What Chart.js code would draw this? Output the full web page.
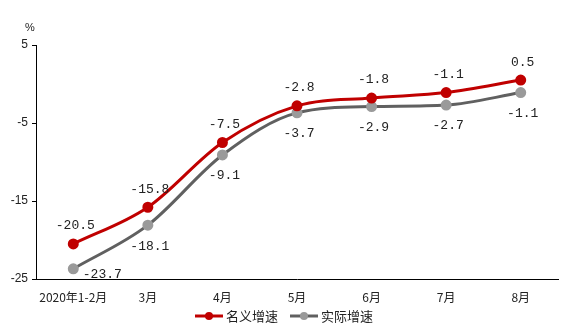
<!DOCTYPE html>
<html>
<head>
<meta charset="utf-8">
<script src="https://cdn.jsdelivr.net/npm/chart.js@4"></script>
<style>
  html, body { margin: 0; padding: 0; background: #fff; }
  #wrap { width: 566px; height: 330px; }
</style>
</head>
<body>
<div id="wrap"><canvas id="chart" width="566" height="330"></canvas></div>
<script>
// data
const months = ['2020年1-2月', '3月', '4月', '5月', '6月', '7月', '8月'];
const nominal = [-20.5, -15.8, -7.5, -2.8, -1.8, -1.1, 0.5];
const real = [-23.7, -18.1, -9.1, -3.7, -2.9, -2.7, -1.1];
const seriesNames = ['名义增速', '实际增速'];
const yTicks = [5, -5, -15, -25];

const RED = '#c00000';
const GREY_LINE = '#606060';
const GREY_DOT = '#9a9a9a';
const TXT = '#222';

// value labels + legend + unit
const extras = {
  id: 'extras',
  afterDatasetsDraw(chart) {
    const ctx = chart.ctx;
    ctx.save();
    ctx.font = '13px "Liberation Mono", "DejaVu Sans Mono", monospace';
    ctx.fillStyle = TXT;
    ctx.textAlign = 'center';
    ctx.textBaseline = 'middle';
    chart.getDatasetMeta(0).data.forEach((p, i) => {
      ctx.fillText(nominal[i].toFixed(1), p.x + 2, p.y - 18);
    });
    chart.getDatasetMeta(1).data.forEach((p, i) => {
      if (i === 0) ctx.fillText(real[i].toFixed(1), p.x + 29, p.y + 6);
      else ctx.fillText(real[i].toFixed(1), p.x + 2, p.y + 21);
    });

    // unit
    ctx.font = '11px "Liberation Sans", sans-serif';
    ctx.fillText('%', 30, 28);

    // legend
    const items = [
      { x: 195, line: RED, dot: RED, name: seriesNames[0] },
      { x: 290, line: GREY_LINE, dot: GREY_DOT, name: seriesNames[1] }
    ];
    const ly = 316;
    items.forEach(it => {
      ctx.strokeStyle = it.line;
      ctx.lineWidth = 3;
      ctx.beginPath();
      ctx.moveTo(it.x, ly);
      ctx.lineTo(it.x + 28, ly);
      ctx.stroke();
      ctx.fillStyle = it.dot;
      ctx.beginPath();
      ctx.arc(it.x + 14, ly, 4, 0, Math.PI * 2);
      ctx.fill();
      ctx.fillStyle = TXT;
      ctx.textAlign = 'left';
      ctx.font = '13px "Noto Sans CJK SC", sans-serif';
      ctx.fillText(it.name, it.x + 31, ly);
    });
    ctx.restore();
  }
};

new Chart(document.getElementById('chart'), {
  type: 'line',
  data: {
    labels: months,
    datasets: [
      {
        label: seriesNames[0],
        data: nominal,
        borderColor: RED,
        backgroundColor: RED,
        pointBackgroundColor: RED,
        pointBorderColor: RED,
        borderWidth: 3,
        pointRadius: 4,
        cubicInterpolationMode: 'monotone'
      },
      {
        label: seriesNames[1],
        data: real,
        borderColor: GREY_LINE,
        backgroundColor: GREY_DOT,
        pointBackgroundColor: GREY_DOT,
        pointBorderColor: GREY_DOT,
        borderWidth: 3,
        pointRadius: 4,
        cubicInterpolationMode: 'monotone'
      }
    ]
  },
  options: {
    responsive: false,
    animation: false,
    layout: { padding: { top: 45, right: 8, left: 0, bottom: 0 } },
    plugins: {
      legend: { display: false },
      tooltip: { enabled: false }
    },
    scales: {
      x: {
        offset: true,
        grid: { display: false },
        border: { display: true, color: '#000', width: 1 },
        ticks: {
          color: TXT,
          font: { size: 12, family: '"Noto Sans CJK SC", "Liberation Sans", sans-serif' },
          maxRotation: 0,
          padding: 3
        },
        afterFit(scale) { scale.height = 51; }
      },
      y: {
        min: -25,
        max: 5,
        afterBuildTicks(scale) { scale.ticks = yTicks.map(v => ({ value: v })); },
        grid: { drawOnChartArea: false, color: '#000', tickLength: 4 },
        border: { display: true, color: '#000', width: 1 },
        ticks: {
          color: TXT,
          font: { size: 12, family: '"Liberation Sans", sans-serif' },
          padding: 4
        },
        afterFit(scale) { scale.width = 36; }
      }
    }
  },
  plugins: [extras]
});
</script>
</body>
</html>
